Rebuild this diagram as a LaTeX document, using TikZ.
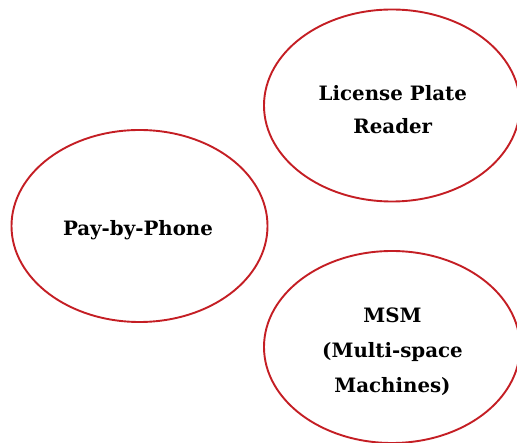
\documentclass[tikz,border=0pt]{standalone}
\usepackage{fontspec}
\setmainfont{DejaVu Serif}
\usetikzlibrary{shapes.geometric}
\definecolor{ered}{HTML}{C41E24}
\begin{document}
\begin{tikzpicture}[x=1pt,y=-1pt,
  bubble/.style={draw=ered,line width=1.9pt,ellipse,minimum width=256pt,minimum height=192pt,inner sep=0pt},
  lbl/.style={align=center,inner sep=0pt,font=\bfseries\fontsize{19.8}{33.5}\selectfont}]
\useasboundingbox (0,0) rectangle (517,443);
\begin{scope}
\clip (0,0) rectangle (517,443);
\node[bubble] (pay) at (139.5,226) {};
\node[bubble] (lpr) at (392,105.5) {};
\node[bubble] (msm) at (392,347) {};
\end{scope}
\node[lbl] (payt) at (138,230.6) {Pay-by-Phone};
\node[lbl] (lprt) at (392.8,109.8) {License Plate\\Reader};
\node[lbl,font=\bfseries\fontsize{19.8}{35}\selectfont] (msmt) at (392.5,351.6) {MSM\\(Multi-space\\Machines)};
\end{tikzpicture}
\end{document}
